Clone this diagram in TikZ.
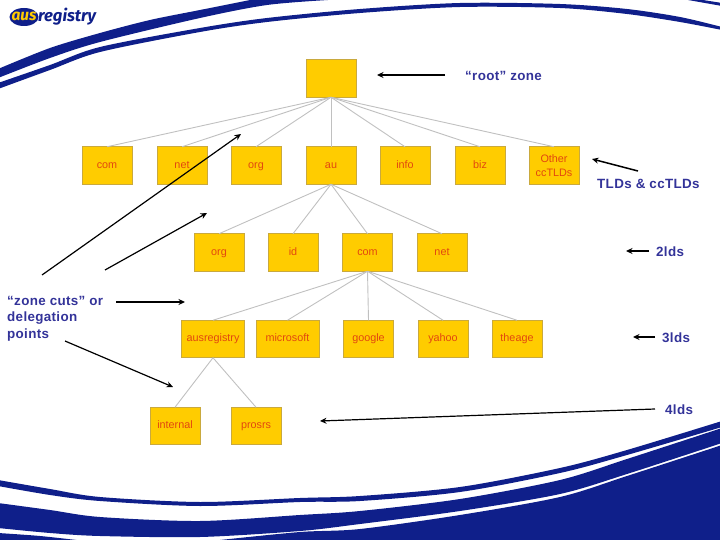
\documentclass[tikz,border=0pt]{standalone}
\usepackage{fontspec}
\setmainfont{Liberation Sans}
\newfontfamily\logofont{Fira Sans}
\newfontfamily\capfont[LetterSpace=2.5]{Liberation Sans}
\usetikzlibrary{arrows.meta}
\definecolor{bandblue}{HTML}{0F1F8A}
\definecolor{boxfill}{HTML}{FFCC00}
\definecolor{boxedge}{HTML}{C9A93E}
\definecolor{boxtext}{HTML}{E2470F}
\definecolor{labelblue}{HTML}{333399}
\definecolor{linkgray}{HTML}{C0C0C0}
\tikzset{
  zonebox/.style={draw=boxedge,fill=boxfill,line width=0.8pt,minimum width=50pt,minimum height=37.5pt,inner sep=0pt,outer sep=0pt,align=center,text=boxtext,font=\fontsize{10.8}{14}\selectfont},
  widebox/.style={zonebox,minimum width=63pt},
  link/.style={draw=linkgray,line width=0.9pt},
  pointer/.style={draw=black,line width=1.5pt,-{Stealth[length=6.5pt,width=6pt]}},
  thinpointer/.style={draw=black,line width=1.2pt,-{Stealth[length=6.5pt,width=6pt]}},
  caption/.style={text=labelblue,inner sep=0pt,font=\capfont\fontsize{13.4}{16.5}\selectfont\bfseries},
  band/.style={fill=bandblue,draw=none}
}
\begin{document}
\begin{tikzpicture}[x=1pt,y=-1pt]
\useasboundingbox (0,0) rectangle (720,540);
\begin{scope}
\clip (0,0) rectangle (720,540);
% upper swooshes
\path[band] plot[smooth] coordinates {(-2,69) (50,48) (100,33) (150,20) (200,10) (250,0) (262,-3)} -- (335,-3) -- plot[smooth] coordinates {(328,0) (267,5) (200,18) (100,42) (50,58) (-2,78)} -- cycle;
\path[band] plot[smooth] coordinates {(-2,83) (50,65) (100,47) (200,28) (267,18) (360,9) (460,3) (560,4) (627,9) (680,17) (722,27)} -- plot[smooth] coordinates {(722,30) (680,22) (627,14) (560,8) (460,7) (360,13) (267,22) (200,32) (100,52) (50,70) (-2,89)} -- cycle;
\path[band] (688,0) -- (703,0) -- (722,3) -- (722,6) -- cycle;
% lower swooshes
\path[band] plot[smooth] coordinates {(-2,480) (50,489) (100,497) (200,502) (300,498) (360,496) (460,487) (560,468) (627,450) (722,421)} -- plot[smooth] coordinates {(722,427) (627,455) (560,473) (460,492) (360,501) (300,502) (200,506) (100,501) (50,495) (-2,486)} -- cycle;
\path[band] plot[smooth] coordinates {(-2,503) (50,510) (100,517) (200,521) (300,515) (360,511) (460,499) (560,480) (627,459) (722,428)} -- plot[smooth] coordinates {(722,443) (627,474) (560,494) (460,511) (360,524) (300,531) (200,537) (100,536) (50,533) (-2,528)} -- cycle;
\path[band] plot[smooth] coordinates {(-2,533) (40,536) (85,541)} -- (220,541) -- plot[smooth] coordinates {(220,540) (300,532) (360,529) (460,515) (560,497) (627,476) (722,445)} -- (722,542) -- (-2,542) -- cycle;
\end{scope}
% logo
\fill[bandblue] (24,17) ellipse [x radius=14.5pt,y radius=9pt];
\node[inner sep=0pt,text=boxfill] (logoA) at (24,16.5) {\logofont\fontsize{15.5}{16}\selectfont\bfseries\itshape aus};
\node[inner sep=0pt,anchor=west,text=bandblue] (logoB) at (38,16.5) {\logofont\fontsize{16.6}{17}\selectfont\bfseries\itshape registry};
% nodes
\node[zonebox] (root) at (331,78.5) {};
\node[zonebox] (com1) at (107,165.5) {\strut com};
\node[zonebox] (net1) at (182,165.5) {\strut net};
\node[zonebox] (org1) at (256,165.5) {\strut org};
\node[zonebox] (au) at (331,165.5) {\strut au};
\node[zonebox] (info) at (405,165.5) {\strut info};
\node[zonebox] (biz) at (480,165.5) {\strut biz};
\node[zonebox] (other) at (554,165.5) {Other\\ccTLDs};
\node[zonebox] (org2) at (219,252.5) {\strut org};
\node[zonebox] (id) at (293,252.5) {\strut id};
\node[zonebox] (com2) at (367.5,252.5) {\strut com};
\node[zonebox] (net2) at (442,252.5) {\strut net};
\node[widebox] (ausreg) at (213,339) {\strut ausregistry};
\node[widebox] (micro) at (287.5,339) {\strut microsoft};
\node[zonebox] (google) at (368.5,339) {\strut google};
\node[zonebox] (yahoo) at (443,339) {\strut yahoo};
\node[zonebox] (theage) at (517,339) {\strut theage};
\node[zonebox] (internal) at (175,426) {\strut internal};
\node[zonebox] (prosrs) at (256,426) {\strut prosrs};
% links
\foreach \c in {com1,net1,org1,au,info,biz,other} \draw[link] (root.south) -- (\c.north);
\foreach \c in {org2,id,com2,net2} \draw[link] (au.south) -- (\c.north);
\foreach \c in {ausreg,micro,google,yahoo,theage} \draw[link] (com2.south) -- (\c.north);
\foreach \c in {internal,prosrs} \draw[link] (ausreg.south) -- (\c.north);
% labels
\node[caption,anchor=west] (lroot) at (465,76) {“root” zone};
\node[caption,anchor=west] (ltld) at (597,184) {TLDs \& ccTLDs};
\node[caption,anchor=west] (l2) at (656,252) {2lds};
\node[caption,anchor=west] (l3) at (662,337.5) {3lds};
\node[caption,anchor=west] (l4) at (665,410) {4lds};
\node[caption,anchor=north west,align=left] (lzone) at (7,296) {“zone cuts” or\\delegation\\points};
% pointers
\coordinate (a1s) at (445,75); \coordinate (a1e) at (377,75);
\coordinate (a2s) at (638,171); \coordinate (a2e) at (592,159);
\coordinate (a3s) at (649,251); \coordinate (a3e) at (626,251);
\coordinate (a4s) at (655,337); \coordinate (a4e) at (633,337);
\coordinate (a5s) at (655,409); \coordinate (a5e) at (320,421);
\coordinate (b1s) at (42,275); \coordinate (b1e) at (241,134);
\coordinate (b2s) at (105,270); \coordinate (b2e) at (207,213);
\coordinate (b3s) at (116,302); \coordinate (b3e) at (185,302);
\coordinate (b4s) at (65,341); \coordinate (b4e) at (173,387);
\draw[pointer] (a1s) -- (a1e);
\draw[pointer] (a2s) -- (a2e);
\draw[pointer] (a3s) -- (a3e);
\draw[pointer] (a4s) -- (a4e);
\draw[thinpointer] (a5s) -- (a5e);
\draw[thinpointer] (b1s) -- (b1e);
\draw[thinpointer] (b2s) -- (b2e);
\draw[pointer] (b3s) -- (b3e);
\draw[thinpointer] (b4s) -- (b4e);
\end{tikzpicture}
\end{document}
